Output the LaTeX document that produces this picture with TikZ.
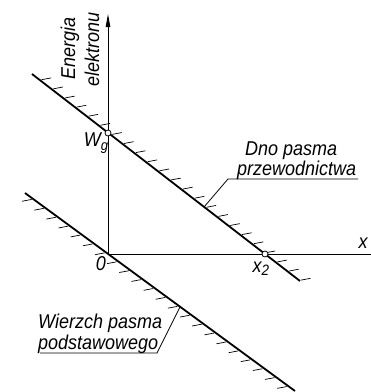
\documentclass[tikz,border=0pt]{standalone}
\usepackage{fontspec}
\setmainfont{Liberation Sans}
\newfontfamily\techfont[FakeStretch=0.9]{Liberation Sans}
\usetikzlibrary{arrows.meta,calc}
\begin{document}
\begin{tikzpicture}[x=1pt,y=-1pt,
  lbl/.style={font=\techfont\fontsize{20}{22}\selectfont\itshape, inner sep=0pt},
  band/.style={line width=1.8pt},
  axis/.style={line width=0.9pt},
  leader/.style={line width=0.8pt},
  hatch/.style={line width=0.7pt},
  pt/.style={circle,draw,fill=white,line width=0.8pt,inner sep=0pt,minimum size=6pt}]
\useasboundingbox (0,0) rectangle (371,392);
% axes
\coordinate (O) at (108,254);
\coordinate (ytop) at (108,14);
\coordinate (xend) at (371,254);
\draw[axis,-{Triangle[length=13pt,width=4.5pt]}] (O) -- (ytop);
\draw[axis] (O) -- (xend);
% band edges
\coordinate (A1) at (32,74);
\coordinate (A2) at (300,281);
\coordinate (B1) at (25,193);
\coordinate (B2) at (295,391);
\foreach \t in {0.03,0.074,...,1.0}
  \draw[hatch] ($(A1)!\t!(A2)$) ++(1.5,-0.5) -- ++(9.5,-1.8);
\foreach \t in {0.03,0.075,...,0.99}
  \draw[hatch] ($(B1)!\t!(B2)$) ++(-1.5,0.5) -- ++(-9.5,1.8);
\draw[band] (A1) -- (A2);
\draw[band] (B1) -- (B2);
% points
\node[pt] (Wg) at (108,133) {};
\node[pt] (x2) at (265,254) {};
% axis labels
\node[lbl, rotate=90] (en1) at (70,48) {Energia};
\node[lbl, rotate=90] (en2) at (92,49) {elektronu};
\node[lbl] (wglbl) at (96,143) {W\raisebox{-4pt}{\fontsize{14.5}{15}\selectfont g}};
\node[lbl] (zero) at (101,264) {0};
\node[lbl] (xlbl) at (363,243) {x};
\node[lbl] (x2lbl) at (261,269) {x\raisebox{-3pt}{\fontsize{15}{15}\selectfont 2}};
% conduction band label
\node[lbl, anchor=base west] (dno) at (245,155) {Dno\ pasma};
\node[lbl, anchor=base west] (prz) at (237,175) {przewodnictwa};
\coordinate (u1) at (228,179);
\coordinate (u2) at (358,179);
\coordinate (la) at (204,207);
\draw[leader] (la) -- (u1) -- (u2);
% valence band label
\node[lbl, anchor=base west] (wie) at (38,328) {Wierzch\ pasma};
\node[lbl, anchor=base west] (pod) at (38,349) {podstawowego};
\coordinate (v1) at (40,353);
\coordinate (v2) at (157,353);
\coordinate (lb) at (180,307);
\draw[leader] (v1) -- (v2) -- (lb);
\end{tikzpicture}
\end{document}
